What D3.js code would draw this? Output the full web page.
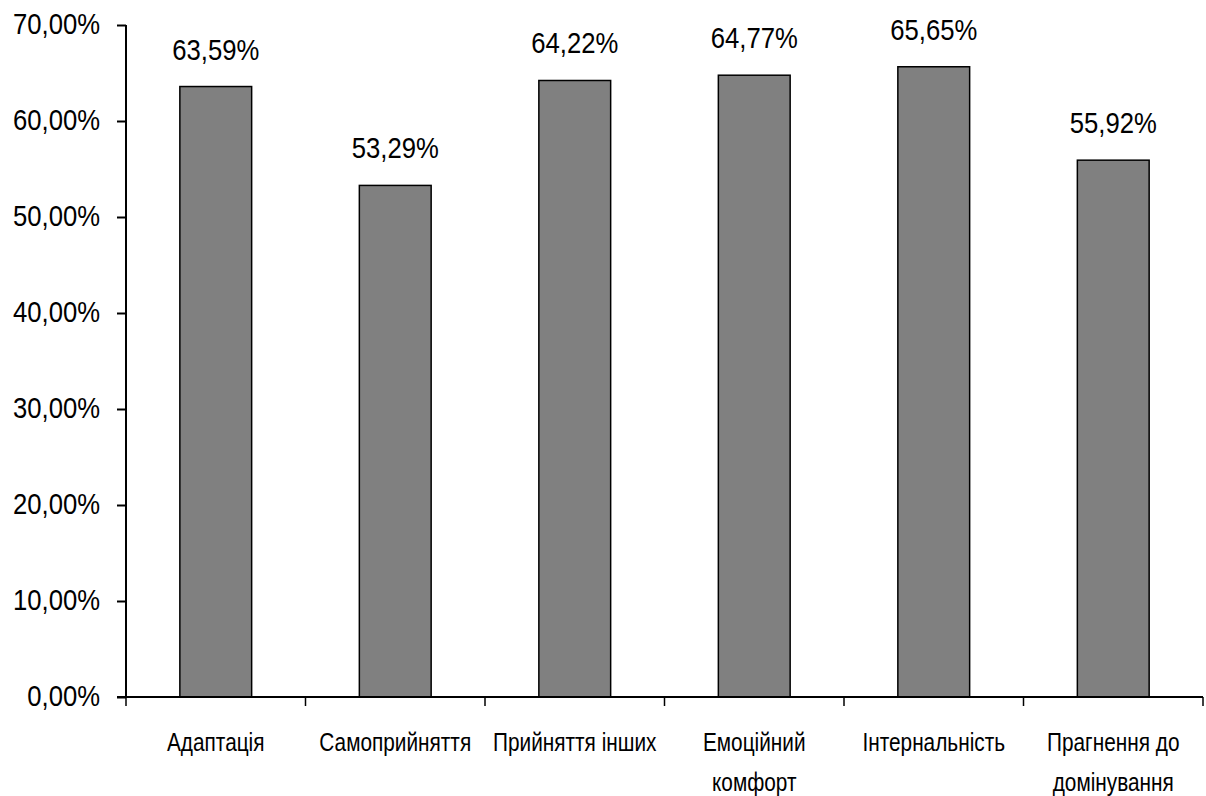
<!DOCTYPE html>
<html>
<head>
<meta charset="utf-8">
<script src="https://cdn.jsdelivr.net/npm/d3@7"></script>
<style>
  body { margin: 0; background: #fff; }
  text { font-family: "Liberation Sans", Arial, sans-serif; fill: #000; }
</style>
</head>
<body>
<div id="chart"></div>
<script>
//chart data
const categories = ["Адаптація", "Самоприйняття", "Прийняття інших", "Емоційний комфорт", "Інтернальність", "Прагнення до домінування"];
const labelLines = [["Адаптація"], ["Самоприйняття"], ["Прийняття інших"], ["Емоційний", "комфорт"], ["Інтернальність"], ["Прагнення до", "домінування"]];
const values = [63.59, 53.29, 64.22, 64.77, 65.65, 55.92];
const yTicks = [0, 10, 20, 30, 40, 50, 60, 70];

const width = 1206, height = 796;
const plotLeft = 126, plotRight = 1203, plotTop = 25, plotBottom = 697;

const fmt = function(v){ return v.toFixed(2).replace(".", ",") + "%"; };

//squeeze text horizontally to imitate a narrow font
function narrow(sel, k){
    sel.each(function(){
        const len = this.getComputedTextLength();
        d3.select(this)
            .attr("textLength", len * k)
            .attr("lengthAdjust", "spacingAndGlyphs");
    });
}

//create svg
const svg = d3.select("#chart").append("svg")
    .attr("width", width)
    .attr("height", height);

//scales
const x = d3.scaleBand()
    .domain(categories)
    .range([plotLeft, plotRight])
    .paddingInner(0.6)
    .paddingOuter(0.3);

const y = d3.scaleLinear()
    .domain([0, 70])
    .range([plotBottom, plotTop]);

//draw bars
svg.append("g").selectAll("rect")
    .data(values)
    .enter().append("rect")
    .attr("x", function(d, i){ return x(categories[i]); })
    .attr("y", function(d){ return y(d); })
    .attr("width", x.bandwidth())
    .attr("height", function(d){ return y(0) - y(d); })
    .attr("fill", "#808080")
    .attr("stroke", "#000")
    .attr("stroke-width", 1.5);

//value labels
const vl = svg.append("g").selectAll("text")
    .data(values)
    .enter().append("text")
    .attr("x", function(d, i){ return x(categories[i]) + x.bandwidth() / 2; })
    .attr("y", function(d){ return y(d) - 27; })
    .attr("text-anchor", "middle")
    .attr("font-size", "29.5px")
    .text(function(d){ return fmt(d); });
narrow(vl, 0.87);

//y axis
const yAxis = d3.axisLeft(y)
    .tickValues(yTicks)
    .tickSize(9)
    .tickPadding(17)
    .tickFormat(function(d){ return d.toFixed(2).replace(".", ",") + "%"; });

const yg = svg.append("g")
    .attr("transform", "translate(" + plotLeft + ",0)")
    .call(yAxis);
yg.attr("font-family", null).attr("font-size", null);
yg.select(".domain").attr("stroke-width", 2).attr("d", "M0," + plotTop + "V" + plotBottom);
yg.selectAll(".tick line").attr("stroke-width", 2);
const yt = yg.selectAll(".tick text")
    .attr("font-size", "29.5px")
    .attr("fill", "#000")
    .attr("dy", "0.3em");
narrow(yt, 0.87);

//x axis line and boundary ticks
const xg = svg.append("g");
xg.append("line")
    .attr("x1", plotLeft - 9).attr("x2", plotRight)
    .attr("y1", plotBottom).attr("y2", plotBottom)
    .attr("stroke", "#000").attr("stroke-width", 2);

const step = x.step();
xg.selectAll("line.b")
    .data(d3.range(categories.length + 1))
    .enter().append("line")
    .attr("class", "b")
    .attr("x1", function(i){ return plotLeft + i * step; })
    .attr("x2", function(i){ return plotLeft + i * step; })
    .attr("y1", plotBottom).attr("y2", plotBottom + 9)
    .attr("stroke", "#000").attr("stroke-width", 1.5);

//category labels
const cl = svg.append("g").selectAll("text")
    .data(labelLines)
    .enter().append("text")
    .attr("x", function(d, i){ return x(categories[i]) + x.bandwidth() / 2; })
    .attr("y", 751)
    .attr("text-anchor", "middle")
    .attr("font-size", "26px");

const ts = cl.selectAll("tspan")
    .data(function(d){ return d; })
    .enter().append("tspan")
    .attr("x", function(){ return this.parentNode.getAttribute("x"); })
    .attr("dy", function(d, i){ return i === 0 ? 0 : 40; })
    .text(function(d){ return d; });
narrow(ts, 0.8);
</script>
</body>
</html>
